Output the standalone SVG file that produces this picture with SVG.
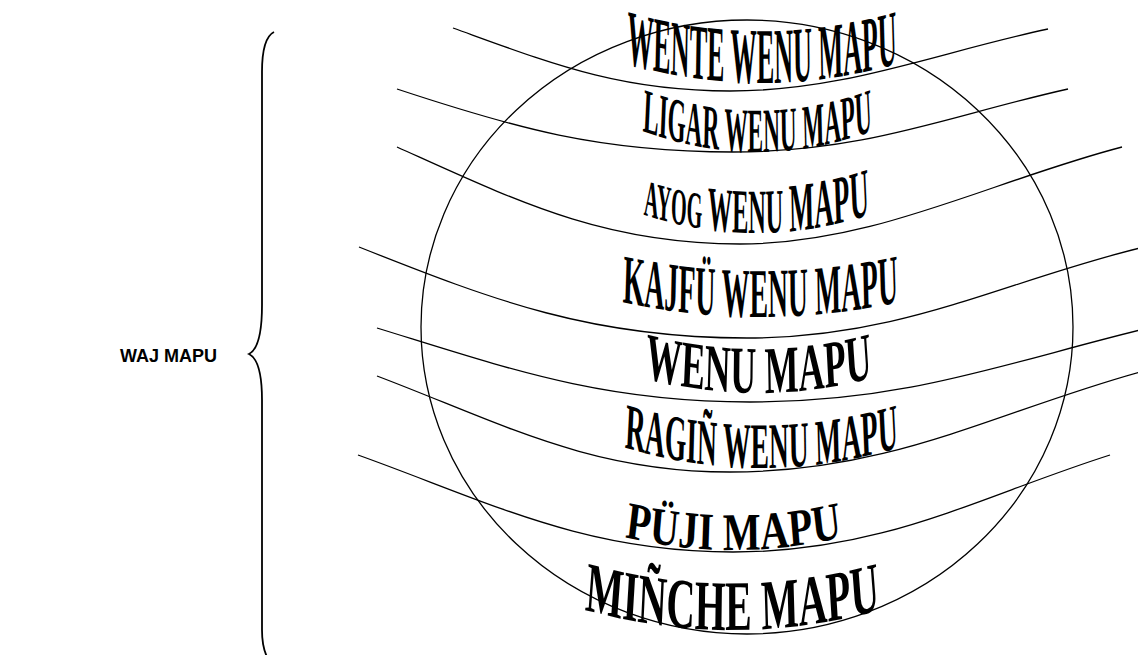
<svg xmlns="http://www.w3.org/2000/svg" width="1138" height="655" viewBox="0 0 1138 655">
<style>
.ln{fill:none;stroke:#000;stroke-width:1.3}
.wa{font-family:"Liberation Serif","Times New Roman",serif;font-weight:bold;fill:#000}
.lbl{font-family:"Liberation Sans",Arial,sans-serif;font-weight:bold;font-size:18px;fill:#000}
</style>
<defs>
<path id="p1" d="M -501.5 53.6 Q 0 112.4 501.5 53.6"/>
<path id="p2" d="M -394.9 117.9 Q 0 186.1 394.9 117.9"/>
<path id="p3" d="M -375 202.6 Q 0 263.4 375 202.6"/>
<path id="p4" d="M -425.9 294.7 Q 0 339.3 425.9 294.7"/>
<path id="p5" d="M -271 368.3 Q 0 417.7 271 368.3"/>
<path id="p6" d="M -395.5 437.05 Q 0 498.95 395.5 437.05"/>
<path id="p7" d="M -186.1 528.5 Q 0 571.5 186.1 528.5"/>
<path id="p8" d="M -320.5 600.2 Q 0 659.8 320.5 600.2"/>
</defs>
<rect width="1138" height="655" fill="#fff"/>

<g id="brace">
<path class="ln" style="stroke-width:1.8" d="M 274 32 C 266 36, 262 50, 262 72 L 262 305 C 262 335, 257 350, 249 354 C 257 358, 262 372, 262 400 L 262 630 C 262 645, 265 655, 270 662"/>
</g>
<g id="waj-mapu"><text class="lbl" x="120" y="362">WAJ MAPU</text></g>

<g id="earth"><ellipse class="ln" cx="747" cy="327" rx="326" ry="307"/></g>

<g id="connectors">
<path class="ln" d="M 453 28 C 550 63, 619 91, 730 91 C 845 91, 932 54, 1048 29"/>
<path class="ln" d="M 397 89 C 515 128, 599 152, 733 152 C 867 152, 951 115, 1068 89"/>
<path class="ln" d="M 397 147 C 517 201, 603 244, 740 244 C 875 244, 988 182, 1122 147"/>
<path class="ln" d="M 359 247 C 495 301, 592 338, 747 338 C 903 338, 1001 282, 1140 248"/>
<path class="ln" d="M 377 328 C 507 368, 601 402, 750 402 C 905 402, 1002 364, 1140 330"/>
<path class="ln" d="M 377 376 C 501 423, 589 472, 730 472 C 893 472, 995 412, 1140 372"/>
<path class="ln" d="M 358 455 C 489 502, 583 552, 733 552 C 884 552, 978 497, 1110 455"/>
</g>

<g id="wente-wenu-mapu" transform="translate(762,0) scale(0.333,1)"><text class="wa" font-size="79"><textPath href="#p1" startOffset="50%" text-anchor="middle">WENTE WENU MAPU</textPath></text></g>
<g id="ligar-wenu-mapu" transform="translate(757.5,0) scale(0.371,1)"><text class="wa" font-size="63"><textPath href="#p2" startOffset="50%" text-anchor="middle">LIGAR WENU MAPU</textPath></text></g>
<g id="ayog-wenu-mapu" transform="translate(756.5,0) scale(0.388,1)"><text class="wa" font-size="63"><textPath href="#p3" startOffset="50%" text-anchor="middle"><tspan font-size="52">AYOG</tspan> WENU <tspan font-size="69">MAPU</tspan></textPath></text></g>
<g id="kajfu-wenu-mapu" transform="translate(760.5,0) scale(0.398,1)"><text class="wa" font-size="70"><textPath href="#p4" startOffset="50%" text-anchor="middle">KAJFÜ WENU MAPU</textPath></text></g>
<g id="wenu-mapu" transform="translate(758.5,0) scale(0.537,1)"><text class="wa" font-size="67"><textPath href="#p5" startOffset="50%" text-anchor="middle">WENU MAPU</textPath></text></g>
<g id="ragin-wenu-mapu" transform="translate(761.5,0) scale(0.426,1)"><text class="wa" font-size="65"><textPath href="#p6" startOffset="50%" text-anchor="middle">RAGIÑ WENU MAPU</textPath></text></g>
<g id="puji-mapu" transform="translate(733.5,0) scale(0.755,1)"><text class="wa" font-size="53"><textPath href="#p7" startOffset="50%" text-anchor="middle">PÜJI MAPU</textPath></text></g>
<g id="minche-mapu" transform="translate(732.5,0) scale(0.56,1)"><text class="wa" font-size="71"><textPath href="#p8" startOffset="50%" text-anchor="middle">MIÑCHE MAPU</textPath></text></g>
</svg>
